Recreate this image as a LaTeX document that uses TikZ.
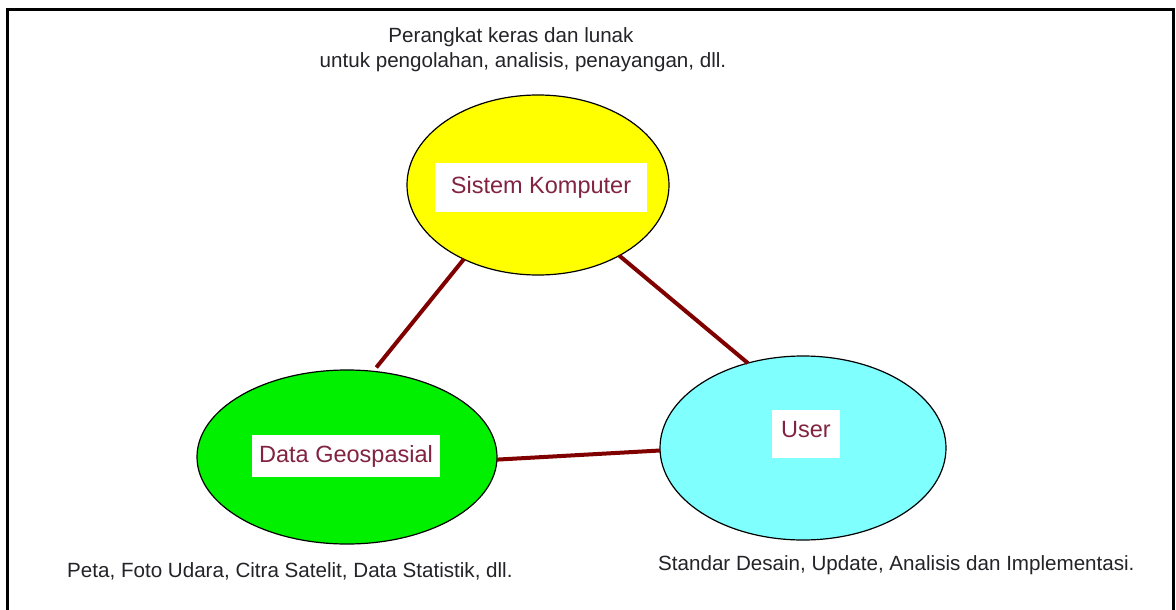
\documentclass[tikz,border=0pt]{standalone}
\usepackage{fontspec}
\setmainfont{Liberation Sans}
\usetikzlibrary{shapes.geometric}
\definecolor{linkred}{RGB}{128,0,0}
\definecolor{labelred}{RGB}{130,35,65}
\definecolor{ygfill}{RGB}{255,255,0}
\definecolor{ggfill}{RGB}{0,240,0}
\definecolor{cyfill}{RGB}{128,255,255}
\definecolor{txtgray}{RGB}{35,35,40}
\begin{document}
\begin{tikzpicture}[x=1pt,y=-1pt,
  blob/.style={ellipse,draw=black,line width=1.2,inner sep=0,outer sep=0},
  lbl/.style={fill=white,text=labelred,font=\fontsize{23.5}{28}\selectfont,inner sep=0,outer sep=0},
  note/.style={text=txtgray,font=\fontsize{20.6}{24}\selectfont,inner sep=0},
  link/.style={draw=linkred,line width=4}]
\useasboundingbox (0,0) rectangle (1176,610);
\fill[white] (0,0) rectangle (1176,610);
\draw[line width=3] (7.5,612) -- (7.5,9.5) -- (1173.5,9.5) -- (1173.5,612);

\node[blob,fill=ygfill,minimum width=262,minimum height=180] (ys) at (538,185) {};
\node[blob,fill=ggfill,minimum width=300,minimum height=174] (gs) at (347,457) {};
\node[blob,fill=cyfill,minimum width=286,minimum height=184] (us) at (803,448) {};

\draw[link,shorten >=5] (ys.225) -- (gs.73);
\draw[link] (ys.319) -- (us.123);
\draw[link] (gs.359.5) -- (us.181);

\node[lbl,minimum width=212,minimum height=49] (ysl) at (541,187) {Sistem Komputer};
\node[lbl,minimum width=188,minimum height=42] (gsl) at (346,456) {Data Geospasial};
\node[lbl,minimum width=68,minimum height=48,text depth=10] (usl) at (806,434) {User};

\node[note,anchor=base] (t1) at (511,43) {Perangkat keras dan lunak};
\node[note,anchor=base] (t2) at (523,67) {untuk pengolahan, analisis, penayangan, dll.};
\node[note,anchor=base west] (bl) at (67,577) {Peta, Foto Udara, Citra Satelit, Data Statistik, dll.};
\node[note,anchor=base west] (br) at (658,570) {Standar Desain, Update, Analisis dan Implementasi.};
\end{tikzpicture}
\end{document}
